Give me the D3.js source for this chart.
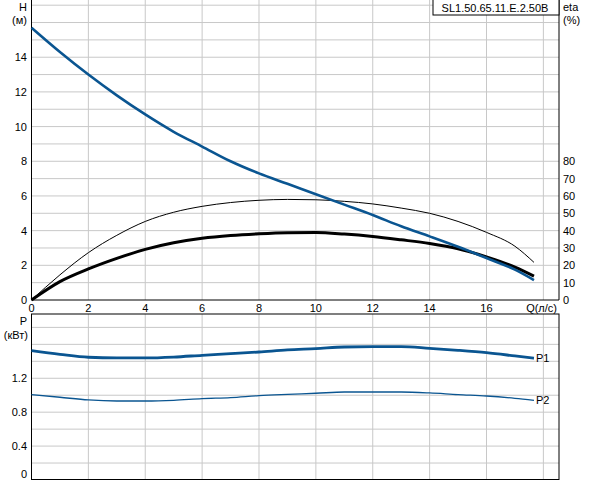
<!DOCTYPE html>
<html>
<head>
<meta charset="utf-8">
<script src="https://cdn.jsdelivr.net/npm/d3@7"></script>
<style>
  body { margin: 0; background: #fff; }
  text { font-family: "Liberation Sans", Arial, sans-serif; font-size: 11px; fill: #000; }
</style>
</head>
<body>
<svg width="592" height="480"></svg>
<script>
const flow = [0, 1, 2, 3, 4, 5, 6, 7, 8, 9, 10, 11, 12, 13, 14, 15, 16, 17, 17.67]
const head = [15.7, 14.3, 13.0, 11.8, 10.7, 9.7, 8.85, 8.0, 7.3, 6.7, 6.1, 5.5, 4.9, 4.25, 3.67, 3.07, 2.42, 1.75, 1.15]
const etaPump = [0, 14.5, 27.3, 37.3, 45.3, 50.6, 54.0, 56.2, 57.5, 58.0, 57.8, 56.9, 55.4, 53.0, 50.0, 45.3, 39.0, 31.0, 21.7]
const etaTotal = [0, 10.6, 17.9, 24.0, 29.2, 33.0, 35.6, 37.2, 38.2, 38.8, 38.9, 38.0, 36.6, 34.7, 32.6, 29.6, 24.9, 19.0, 13.8]
const p1 = [1.526, 1.483, 1.448, 1.44, 1.44, 1.45, 1.471, 1.49, 1.51, 1.535, 1.55, 1.569, 1.573, 1.573, 1.553, 1.53, 1.502, 1.463, 1.436]
const p2 = [1.007, 0.976, 0.944, 0.932, 0.932, 0.94, 0.96, 0.972, 0.995, 1.01, 1.023, 1.038, 1.038, 1.038, 1.027, 1.007, 0.991, 0.964, 0.94]
const xTicks = [0, 2, 4, 6, 8, 10, 12, 14, 16]
const hTicks = [0, 2, 4, 6, 8, 10, 12, 14]
const etaTicks = [0, 10, 20, 30, 40, 50, 60, 70, 80]
const pTicks = [0, 0.4, 0.8, 1.2]
const model = 'SL1.50.65.11.E.2.50B'

const blue = '#0a5591'
const gridColor = '#c8c8c8'
const left = 31.5, right = 559

const x = d3.scaleLinear().domain([0, 18.55]).range([left, right])
const yH = d3.scaleLinear().domain([0, 17]).range([300, 5.2])
const yEta = d3.scaleLinear().domain([0, 170]).range([300, 5.2])
const yP = d3.scaleLinear().domain([0, 1.8]).range([480, 327.4])

const svg = d3.select('svg')

// grids
const topGrid = svg.append('g')
topGrid.selectAll('line.v').data(d3.range(2, 19, 2)).enter().append('line')
  .attr('x1', d => x(d)).attr('x2', d => x(d))
  .attr('y1', 0).attr('y2', 300)
  .attr('stroke', gridColor)
topGrid.selectAll('line.h').data(d3.range(1, 18)).enter().append('line')
  .attr('x1', left).attr('x2', right)
  .attr('y1', d => yH(d)).attr('y2', d => yH(d))
  .attr('stroke', gridColor)

const botGrid = svg.append('g')
botGrid.selectAll('line.v').data(d3.range(2, 19, 2)).enter().append('line')
  .attr('x1', d => x(d)).attr('x2', d => x(d))
  .attr('y1', 314).attr('y2', 480)
  .attr('stroke', gridColor)
botGrid.selectAll('line.h').data(d3.range(1, 10).map(d => d * 0.2)).enter().append('line')
  .attr('x1', left).attr('x2', right)
  .attr('y1', d => yP(d)).attr('y2', d => yP(d))
  .attr('stroke', gridColor)

// frames
svg.append('path')
  .attr('d', `M${left},0V300H${right}V0`)
  .attr('fill', 'none').attr('stroke', '#000')
svg.append('rect')
  .attr('x', left).attr('y', 314).attr('width', right - left).attr('height', 165.5)
  .attr('fill', 'none').attr('stroke', '#000')

// tick labels
svg.selectAll('text.x').data(xTicks).enter().append('text')
  .attr('x', d => x(d)).attr('y', 312)
  .attr('text-anchor', 'middle')
  .text(d => d)
svg.append('text').attr('x', 557).attr('y', 312).attr('text-anchor', 'end').text('Q(л/с)')

svg.selectAll('text.h').data(hTicks).enter().append('text')
  .attr('x', 27).attr('y', d => yH(d) + 4)
  .attr('text-anchor', 'end')
  .text(d => d)
svg.append('text').attr('x', 27).attr('y', 11).attr('text-anchor', 'end').text('H')
svg.append('text').attr('x', 27).attr('y', 24).attr('text-anchor', 'end').text('(м)')

svg.selectAll('text.eta').data(etaTicks).enter().append('text')
  .attr('x', 563).attr('y', d => yEta(d) + 4)
  .text(d => d)
svg.append('text').attr('x', 563).attr('y', 11).text('eta')
svg.append('text').attr('x', 563).attr('y', 24).text('(%)')

svg.selectAll('text.p').data(pTicks).enter().append('text')
  .attr('x', 27).attr('y', d => Math.min(yP(d), 474) + 4)
  .attr('text-anchor', 'end')
  .text(d => d === 0 ? '0' : d.toFixed(1))
svg.append('text').attr('x', 27).attr('y', 325).attr('text-anchor', 'end').text('P')
svg.append('text').attr('x', 28).attr('y', 339).attr('text-anchor', 'end').text('(кВт)')

// model box
svg.append('rect')
  .attr('x', 433).attr('y', -1).attr('width', right - 433).attr('height', 16)
  .attr('fill', '#fff').attr('stroke', '#000')
svg.append('text').attr('x', 495).attr('y', 11.5).attr('text-anchor', 'middle').text(model)

// curves
function curve(yScale, values) {
  return d3.line()
    .x((d, i) => x(flow[i]))
    .y(d => yScale(d))
    .curve(d3.curveMonotoneX)(values)
}

svg.append('path').attr('d', curve(yEta, etaPump))
  .attr('fill', 'none').attr('stroke', '#000').attr('stroke-width', 1)
svg.append('path').attr('d', curve(yEta, etaTotal))
  .attr('fill', 'none').attr('stroke', '#000').attr('stroke-width', 3)
svg.append('path').attr('d', curve(yH, head))
  .attr('fill', 'none').attr('stroke', blue).attr('stroke-width', 2.6)

svg.append('path').attr('d', curve(yP, p1))
  .attr('fill', 'none').attr('stroke', blue).attr('stroke-width', 2.8)
svg.append('path').attr('d', curve(yP, p2))
  .attr('fill', 'none').attr('stroke', blue).attr('stroke-width', 1.3)

const last = flow.length - 1
svg.append('text').attr('x', x(flow[last]) + 2).attr('y', yP(p1[last]) + 4).text('P1')
svg.append('text').attr('x', x(flow[last]) + 2).attr('y', yP(p2[last]) + 4).text('P2')
</script>
</body>
</html>
